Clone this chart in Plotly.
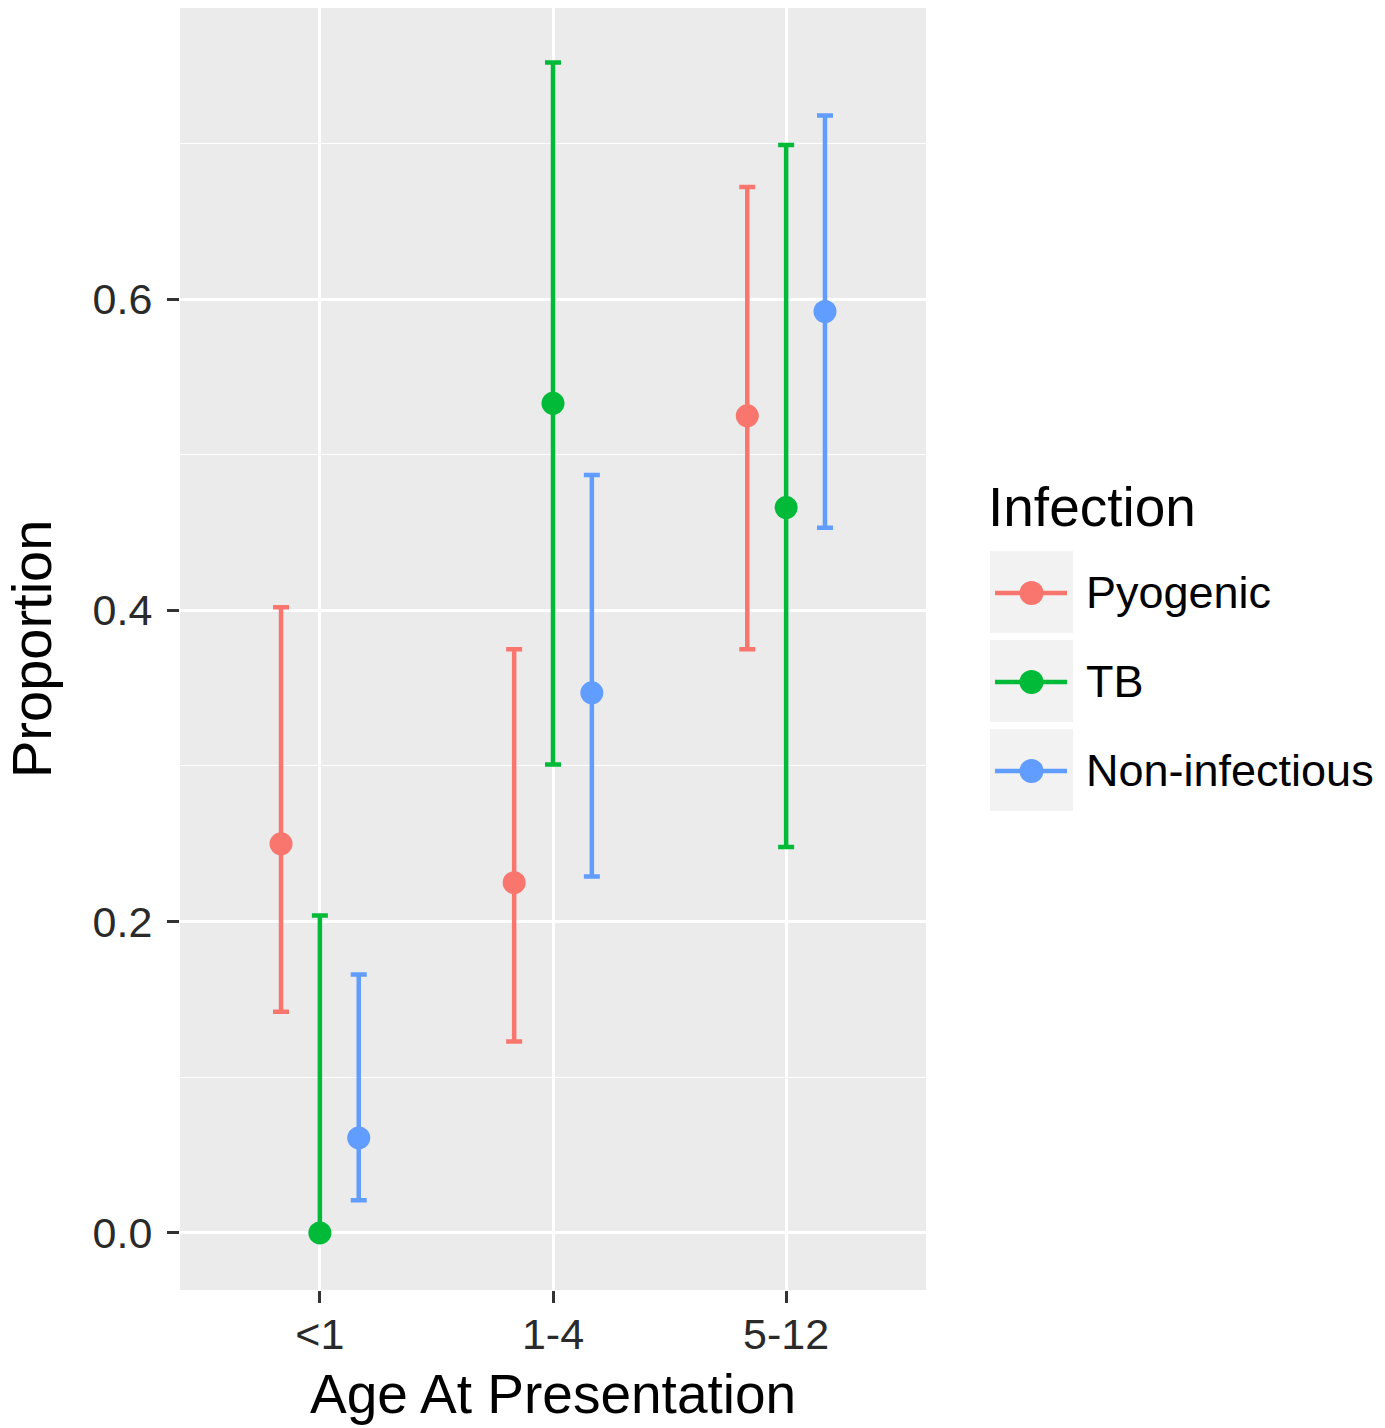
import plotly.graph_objects as go

# ---------------- data ----------------
age_groups = ["<1", "1-4", "5-12"]
infections = ["Pyogenic", "TB", "Non-infectious"]
colors = ["#F8766D", "#00BA38", "#619CFF"]

prop_pyogenic = [0.250, 0.225, 0.525]
low_pyogenic = [0.142, 0.123, 0.375]
high_pyogenic = [0.402, 0.375, 0.672]

prop_tb = [0.000, 0.533, 0.466]
low_tb = [0.000, 0.301, 0.248]
high_tb = [0.204, 0.752, 0.699]

prop_noninf = [0.061, 0.347, 0.592]
low_noninf = [0.021, 0.229, 0.453]
high_noninf = [0.166, 0.487, 0.718]

y_ticks = [0.0, 0.2, 0.4, 0.6]
y_minor = [0.1, 0.3, 0.5, 0.7]

series = [
    (prop_pyogenic, low_pyogenic, high_pyogenic),
    (prop_tb, low_tb, high_tb),
    (prop_noninf, low_noninf, high_noninf),
]

W, H = 1385, 1428
def px(x):
    return x / W
def py(y):
    return 1 - y / H

FONT = "Liberation Sans, Arial, sans-serif"
dodge = 0.5 / 3

fig = go.Figure()

for i, (name, col, (p, lo, hi)) in enumerate(zip(infections, colors, series)):
    xs = [j + (i - 1) * dodge for j in range(len(age_groups))]
    fig.add_trace(go.Scatter(
        x=xs, y=p, mode="markers", name=name, showlegend=False,
        marker=dict(color=col, size=23, line=dict(width=0)),
        error_y=dict(type="data", symmetric=False,
                     array=[h - v for h, v in zip(hi, p)],
                     arrayminus=[v - l for v, l in zip(p, lo)],
                     color=col, thickness=4.5, width=8),
        xaxis="x", yaxis="y",
    ))

# panel background (grey, below gridlines)
shapes = [dict(type="rect", xref="x domain", yref="y domain",
               x0=0, x1=1, y0=0, y1=1, fillcolor="#EBEBEB",
               line=dict(width=0), layer="below")]

# ---------------- manual legend (ggplot style keys) ----------------
key_x0, key_x1 = 990, 1073
key_top, key_h, key_gap = 551, 82, 7
for i, (name, col) in enumerate(zip(infections, colors)):
    top = key_top + i * (key_h + key_gap)
    cy = top + key_h / 2 + 1
    shapes.append(dict(type="rect", xref="x2", yref="y2",
                       x0=key_x0, x1=key_x1, y0=top, y1=top + key_h,
                       fillcolor="#F2F2F2", line=dict(width=0), layer="below"))
    fig.add_trace(go.Scatter(
        x=[key_x0 + 5, key_x1 - 6], y=[cy, cy], mode="lines",
        line=dict(color=col, width=4.5), showlegend=False,
        hoverinfo="skip", xaxis="x2", yaxis="y2"))
    fig.add_trace(go.Scatter(
        x=[(key_x0 + key_x1) / 2], y=[cy], mode="markers",
        marker=dict(color=col, size=24), showlegend=False,
        hoverinfo="skip", xaxis="x2", yaxis="y2"))
    fig.add_trace(go.Scatter(
        x=[1086], y=[cy + 4], mode="text", text=[name], textposition="middle right",
        textfont=dict(family=FONT, size=45, color="#000000"),
        showlegend=False, hoverinfo="skip", xaxis="x2", yaxis="y2"))

annotations = [
    dict(text="Infection", x=px(986), y=py(507), xref="paper", yref="paper",
         xanchor="left", yanchor="middle", showarrow=False,
         font=dict(family=FONT, size=55, color="#000000")),
    dict(text="Age At Presentation", x=px(553), y=py(1394), xref="paper", yref="paper",
         xanchor="center", yanchor="middle", showarrow=False,
         font=dict(family=FONT, size=55, color="#000000")),
    dict(text="Proportion", x=px(32), y=py(649), xref="paper", yref="paper",
         xanchor="center", yanchor="middle", showarrow=False, textangle=-90,
         font=dict(family=FONT, size=56, color="#000000")),
]

fig.update_layout(
    width=W, height=H,
    margin=dict(l=0, r=0, t=0, b=0),
    paper_bgcolor="white",
    plot_bgcolor="white",
    showlegend=False,
    shapes=shapes,
    annotations=annotations,
    xaxis=dict(
        domain=[px(180), px(926)], anchor="y",
        range=[-0.6, 2.6],
        tickvals=list(range(len(age_groups))), ticktext=age_groups,
        showgrid=True, gridcolor="white", gridwidth=2.8,
        zeroline=False, showline=False,
        ticks="outside", ticklen=12, tickwidth=3, tickcolor="#333333",
        tickfont=dict(family=FONT, size=43, color="#2a2a2a"),
        ticklabelstandoff=-6,
    ),
    yaxis=dict(
        domain=[py(1290), py(8)], anchor="x",
        range=[-0.0367, 0.787],
        tickvals=y_ticks, ticktext=[f"{v:.1f}" for v in y_ticks],
        showgrid=True, gridcolor="white", gridwidth=2.8,
        minor=dict(tickvals=y_minor, showgrid=True, gridcolor="white",
                   gridwidth=1.4, ticks=""),
        zeroline=False, showline=False,
        ticks="outside", ticklen=12, tickwidth=3, tickcolor="#333333",
        tickfont=dict(family=FONT, size=43, color="#2a2a2a"),
        ticklabelstandoff=6,
    ),
    xaxis2=dict(domain=[px(980), 1.0], anchor="y2", range=[980, 1385],
                visible=False, fixedrange=True),
    yaxis2=dict(domain=[py(830), py(540)], anchor="x2", range=[830, 540],
                visible=False, fixedrange=True),
)

fig.write_html("out.html")
